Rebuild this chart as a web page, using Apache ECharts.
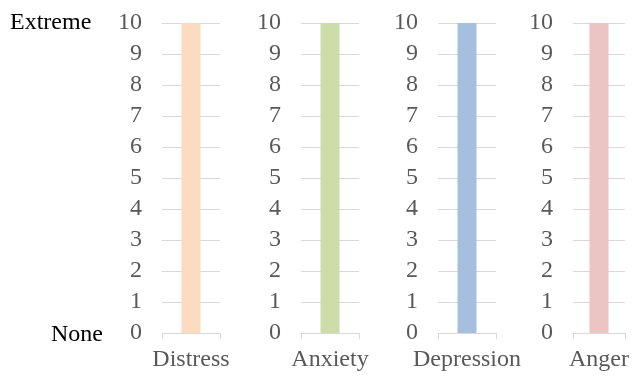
<!DOCTYPE html>
<html>
<head>
<meta charset="utf-8">
<script src="https://cdn.jsdelivr.net/npm/echarts@6/dist/echarts.min.js"></script>
<style>
html,body{margin:0;padding:0;background:#fff;}
#chart{width:632px;height:378px;}
</style>
</head>
<body>
<div id="chart"></div>
<script>
const categories = ['Distress', 'Anxiety', 'Depression', 'Anger'];
const values = [10, 10, 10, 10];
const colors = ['#FBDCC1', '#CDDDAA', '#A6BFDF', '#EDC4C4'];
const yMin = 0, yMax = 10, yStep = 1;
const topLabel = 'Extreme';
const bottomLabel = 'None';

const lefts = [162, 301, 438, 573];
const gridW = 58;
const FONT = 'Liberation Serif';

const chart = echarts.init(document.getElementById('chart'), null, {renderer: 'canvas'});
const grids = [], xAxes = [], yAxes = [], series = [];
categories.forEach((c, i) => {
  grids.push({left: lefts[i], width: gridW, top: 23, bottom: 45, containLabel: false});
  xAxes.push({
    type: 'category', gridIndex: i, data: [c],
    axisLine: {lineStyle: {color: '#D9D9D9', width: 1}},
    axisTick: {show: true, length: 6, lineStyle: {color: '#D9D9D9'}},
    axisLabel: {color: '#595959', fontFamily: FONT, fontSize: 24, margin: 15}
  });
  yAxes.push({
    type: 'value', gridIndex: i, min: yMin, max: yMax, interval: yStep,
    axisLine: {show: false}, axisTick: {show: false},
    splitLine: {lineStyle: {color: '#D9D9D9', width: 1}},
    axisLabel: {color: '#595959', fontFamily: FONT, fontSize: 24, margin: 20, padding: [6, 0, 0, 0]}
  });
  series.push({
    type: 'bar', xAxisIndex: i, yAxisIndex: i, data: [values[i]],
    barWidth: 19, itemStyle: {color: colors[i]}, silent: true
  });
});

chart.setOption({
  animation: false,
  grid: grids, xAxis: xAxes, yAxis: yAxes, series: series,
  graphic: [
    {type: 'text', left: 10, top: 11, style: {text: topLabel, font: '24px "Liberation Serif"', fill: '#000'}},
    {type: 'text', right: 632 - 103, top: 323, style: {text: bottomLabel, font: '24px "Liberation Serif"', fill: '#000'}}
  ]
});
</script>
</body>
</html>
